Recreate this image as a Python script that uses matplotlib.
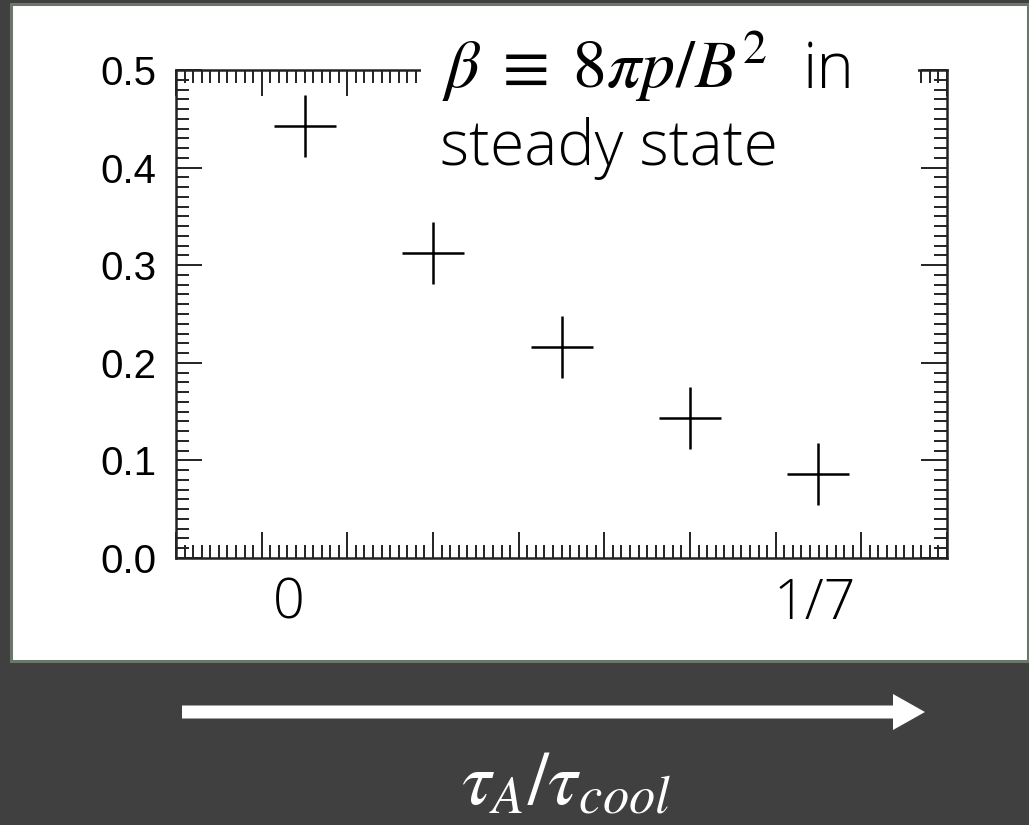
import matplotlib
matplotlib.use("Agg")
import matplotlib.pyplot as plt
import matplotlib.ticker as ticker
from matplotlib.patches import Rectangle, FancyArrow

plt.rcParams['mathtext.fontset'] = 'stix'

# data
x_vals = [1.5, 3.0, 4.5, 6.0, 7.5]
beta_vals = [0.443, 0.312, 0.216, 0.143, 0.086]
y_ticks = [0.0, 0.1, 0.2, 0.3, 0.4, 0.5]
x_notes = [(1.32, "0"), (7.46, "1/7")]

bg = "#404040"
border = "#6b776b"
W, H = 1029, 825


def fx(px):
    return px / W


def fy(py):
    # pixel row measured from the top -> figure fraction
    return 1 - py / H


fig = plt.figure(figsize=(10.29, 8.25), dpi=100, facecolor=bg)

# white slide panel behind the chart
fig.patches.append(Rectangle((fx(11), fy(661)), fx(1017), 657 / H,
                             transform=fig.transFigure, facecolor="white",
                             edgecolor=border, linewidth=2.2, zorder=-5))

ax = fig.add_axes([fx(176), fy(558), fx(771), 488 / H])
ax.plot(x_vals, beta_vals, linestyle="none", marker="+", markersize=45,
        markeredgewidth=1.8, color="black")

ax.set_xlim(0, 9)
ax.set_ylim(0, 0.5)
ax.xaxis.set_major_locator(ticker.MultipleLocator(1))
ax.xaxis.set_minor_locator(ticker.MultipleLocator(0.1))
ax.yaxis.set_major_locator(ticker.FixedLocator(y_ticks))
ax.yaxis.set_minor_locator(ticker.MultipleLocator(0.01))
ax.yaxis.set_major_formatter(ticker.FormatStrFormatter("%.1f"))
ax.set_xticklabels([])
ax.tick_params(which="both", direction="in", top=True, right=True,
               color="#222222")
ax.tick_params(which="major", length=19, width=1.4)
ax.tick_params(which="minor", length=9.5, width=1.4)
ax.tick_params(axis="y", labelsize=29, pad=14)
for lbl in ax.get_yticklabels():
    lbl.set_fontfamily("Liberation Sans")
for sp in ax.spines.values():
    sp.set_linewidth(1.8)
    sp.set_color("#222222")

for xv, txt in x_notes:
    ax.text(xv, -0.095, txt, transform=ax.get_xaxis_transform(),
            ha="center", va="center", fontsize=40, family="Open Sans",
            fontweight="light")

# text box on top of the chart, hiding part of the top axis
fig.patches.append(Rectangle((fx(421), fy(180)), fx(497), 150 / H,
                             transform=fig.transFigure, facecolor="white",
                             edgecolor="none", zorder=5))
fig.text(fx(442), fy(88), "$\\beta\\;\\equiv\\;8\\pi p/B^2$",
         ha="left", va="baseline", fontsize=49, zorder=6)
fig.text(fx(803), fy(88), "in", ha="left", va="baseline", fontsize=46,
         family="Open Sans", fontweight="light", zorder=6)
fig.text(fx(440), fy(165), "steady state", ha="left", va="baseline",
         fontsize=45, family="Open Sans", fontweight="light", zorder=6)

# white arrow and axis label on the dark background
fig.patches.append(FancyArrow(fx(182), fy(712), fx(743), 0,
                              width=13 / H, head_width=36 / H,
                              head_length=fx(32), length_includes_head=True,
                              transform=fig.transFigure, facecolor="white",
                              edgecolor="none", zorder=5))
fig.text(fx(566), fy(805), "$\\tau_A/\\tau_{cool}$", ha="center",
         va="baseline", fontsize=54, color="white")

fig.savefig("out.png", dpi=100, facecolor=bg)
